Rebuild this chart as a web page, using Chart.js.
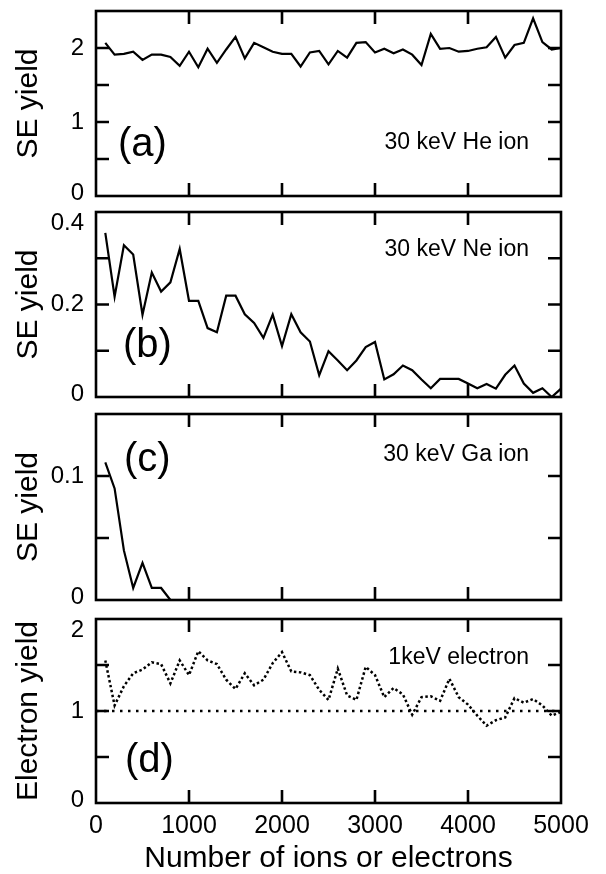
<!DOCTYPE html>
<html><head><meta charset="utf-8">
<script src="https://cdn.jsdelivr.net/npm/chart.js@4"></script>
<style>
html,body{margin:0;padding:0;background:#fff;}
#wrap{position:relative;width:606px;height:874px;background:#fff;}
canvas{position:absolute;left:0;}
</style></head>
<body><div id="wrap">
<canvas id="ca" width="606" height="204" style="top:0px;width:606px;height:204px"></canvas>
<canvas id="cb" width="606" height="201" style="top:204px;width:606px;height:201px"></canvas>
<canvas id="cc" width="606" height="203" style="top:405px;width:606px;height:203px"></canvas>
<canvas id="cd" width="606" height="266" style="top:608px;width:606px;height:266px"></canvas>
</div>
<script>
// ---- data ----
const counts = [100,200,300,400,500,600,700,800,900,1000,
  1100,1200,1300,1400,1500,1600,1700,1800,1900,2000,
  2100,2200,2300,2400,2500,2600,2700,2800,2900,3000,
  3100,3200,3300,3400,3500,3600,3700,3800,3900,4000,
  4100,4200,4300,4400,4500,4600,4700,4800,4900,5000];
const heYield = [2.07,1.91,1.92,1.95,1.84,1.91,1.91,1.88,1.76,1.95,
  1.74,1.99,1.80,1.98,2.15,1.86,2.07,2.01,1.95,1.92,
  1.92,1.75,1.94,1.96,1.78,1.96,1.87,2.07,2.08,1.94,
  1.99,1.93,1.98,1.91,1.77,2.19,1.99,2.00,1.95,1.96,
  1.99,2.01,2.15,1.87,2.04,2.07,2.40,2.08,1.98,2.00];
const neYield = [0.355,0.217,0.328,0.308,0.178,0.269,0.228,0.248,0.320,0.208,
  0.208,0.149,0.140,0.219,0.219,0.179,0.160,0.128,0.178,0.110,
  0.179,0.140,0.120,0.047,0.099,0.079,0.058,0.079,0.108,0.119,
  0.038,0.049,0.068,0.058,0.038,0.019,0.039,0.039,0.039,0.029,
  0.019,0.028,0.018,0.048,0.068,0.029,0.009,0.019,0.000,0.018];
const gaCounts = [100,200,300,400,500,600,700,800];
const gaYield = [0.111,0.090,0.040,0.0097,0.030,0.0097,0.0097,0.000];
const electronYield = [1.55,1.06,1.27,1.41,1.45,1.53,1.51,1.30,1.55,1.39,
  1.65,1.55,1.51,1.34,1.24,1.41,1.28,1.34,1.52,1.64,
  1.43,1.42,1.39,1.23,1.12,1.46,1.17,1.12,1.48,1.39,
  1.15,1.25,1.18,0.96,1.15,1.16,1.11,1.35,1.15,1.07,
  0.95,0.84,0.90,0.93,1.14,1.09,1.13,1.06,0.95,0.99];
const refX = [0, 5000];
const refY = [1, 1];

const xTicks = [0,1000,2000,3000,4000,5000];
const xMarks = [1000,2000,3000,4000];
const yTicksA = [0,1,2];      const yMarksA = [0.5,1,1.5,2];
const yTicksB = [0,0.2,0.4];  const yMarksB = [0.1,0.2,0.3];
const yTicksC = [0,0.1];      const yMarksC = [0.05,0.1];
const yTicksD = [0,1,2];      const yMarksD = [0.5,1,1.5];

const FONT = '"Liberation Sans", Arial, Helvetica, sans-serif';

function pts(xs, ys){ return xs.map((x,i)=>({x:x, y:ys[i]})); }

const framePlugin = {
  id: 'frame',
  beforeDraw(chart){
    const s = chart.scales.y;
    const items = s.getLabelItems();
    items.forEach((it,i)=>{
      if (it._adj || !it.options || !it.options.translation) return;
      it._adj = true;
      const t = s.ticks[i];
      if (!t) return;
      if (t.value === s.max) it.options.translation[1] += 11;
      else if (t.value === s.min) it.options.translation[1] -= 2.5;
    });
  },
  afterDatasetsDraw(chart, args, o){
    const {ctx, chartArea:a, scales:{x, y}} = chart;
    ctx.save();
    ctx.strokeStyle = '#000';
    ctx.lineWidth = 2.6;
    ctx.strokeRect(a.left, a.top, a.right-a.left, a.bottom-a.top);
    const L = 13;
    ctx.beginPath();
    o.xMarks.forEach(v=>{
      const p = x.getPixelForValue(v);
      ctx.moveTo(p, a.top); ctx.lineTo(p, a.top+L);
      ctx.moveTo(p, a.bottom); ctx.lineTo(p, a.bottom-L);
    });
    o.yMarks.forEach(v=>{
      const p = y.getPixelForValue(v);
      ctx.moveTo(a.left, p); ctx.lineTo(a.left+L, p);
      ctx.moveTo(a.right, p); ctx.lineTo(a.right-L, p);
    });
    ctx.stroke();
    ctx.fillStyle = '#000';
    ctx.textBaseline = 'middle';
    ctx.textAlign = 'left';
    ctx.font = '40px ' + FONT;
    ctx.fillText(o.letter, a.left + o.letterDx, a.top + o.letterDy);
    ctx.textAlign = 'right';
    ctx.font = '23px ' + FONT;
    ctx.fillText(o.note, a.right - 32, a.top + o.noteDy);
    ctx.restore();
  }
};

function makeChart(id, c){
  return new Chart(document.getElementById(id), {
    type: 'line',
    data: { datasets: c.datasets },
    options: {
      responsive: false, animation: false,
      layout: { padding: { left: 0, right: 45, top: c.padTop, bottom: c.padBottom } },
      plugins: {
        legend: { display: false }, tooltip: { enabled: false },
        frame: { xMarks: xMarks, yMarks: c.yMarks, letter: c.letter, letterDx: c.letterDx,
                 letterDy: c.letterDy, note: c.note, noteDy: c.noteDy }
      },
      scales: {
        x: {
          type: 'linear', min: 0, max: 5000, display: c.showX,
          border: { display: false },
          grid: { display: false, drawTicks: false },
          afterBuildTicks: s => { s.ticks = xTicks.map(v=>({value:v})); },
          afterFit: s => { if (c.showX) { s.height = 71; } s.paddingLeft = 0; s.paddingRight = 0; },
          ticks: { color: '#000', padding: 8, maxRotation: 0, autoSkip: false,
                   font: { family: FONT, size: 25 }, callback: v => String(v) },
          title: { display: c.showX, text: 'Number of ions or electrons', color: '#000',
                   font: { family: FONT, size: 30, lineHeight: 1 }, padding: { top: 0, bottom: 0 } }
        },
        y: {
          type: 'linear', min: 0, max: c.yMax,
          border: { display: false },
          grid: { display: false, drawTicks: false },
          afterBuildTicks: s => { s.ticks = c.yTicks.map(v=>({value:v})); },
          afterFit: s => { s.width = 96; s.paddingTop = 0; s.paddingBottom = 0; },
          ticks: { color: '#000', padding: 12, autoSkip: false,
                   font: { family: FONT, size: 24 }, callback: v => String(v) },
          title: { display: true, text: c.yTitle, color: '#000',
                   font: { family: FONT, size: 30 }, padding: { top: 11, bottom: 0 } }
        }
      }
    },
    plugins: [framePlugin]
  });
}

const solid = (d) => ({ data: d, borderColor: '#000', borderWidth: 2.2, pointRadius: 0, tension: 0, fill: false });

makeChart('ca', { datasets: [solid(pts(counts, heYield))], padTop: 11, padBottom: 8, yMax: 2.5,
  yTicks: yTicksA, yMarks: yMarksA, yTitle: 'SE yield', showX: false,
  letter: '(a)', letterDx: 22, letterDy: 134, note: '30 keV He ion', noteDy: 132 });

makeChart('cb', { datasets: [solid(pts(counts, neYield))], padTop: 8, padBottom: 8, yMax: 0.4,
  yTicks: yTicksB, yMarks: yMarksB, yTitle: 'SE yield', showX: false,
  letter: '(b)', letterDx: 27, letterDy: 134, note: '30 keV Ne ion', noteDy: 38 });

makeChart('cc', { datasets: [solid(pts(gaCounts, gaYield))], padTop: 9, padBottom: 8, yMax: 0.15,
  yTicks: yTicksC, yMarks: yMarksC, yTitle: 'SE yield', showX: false,
  letter: '(c)', letterDx: 28, letterDy: 46, note: '30 keV Ga ion', noteDy: 41 });

makeChart('cd', { datasets: [
    { data: pts(counts, electronYield), borderColor: '#000', borderWidth: 2.5, borderDash: [2.5, 2.5],
      pointRadius: 0, tension: 0, fill: false },
    { data: pts(refX, refY), borderColor: '#000', borderWidth: 2.5, borderDash: [2.5, 5.5],
      pointRadius: 0, tension: 0, fill: false }
  ], padTop: 11, padBottom: 0, yMax: 2,
  yTicks: yTicksD, yMarks: yMarksD, yTitle: 'Electron yield', showX: true,
  letter: '(d)', letterDx: 29, letterDy: 142, note: '1keV electron', noteDy: 39 });
</script>
</body></html>
